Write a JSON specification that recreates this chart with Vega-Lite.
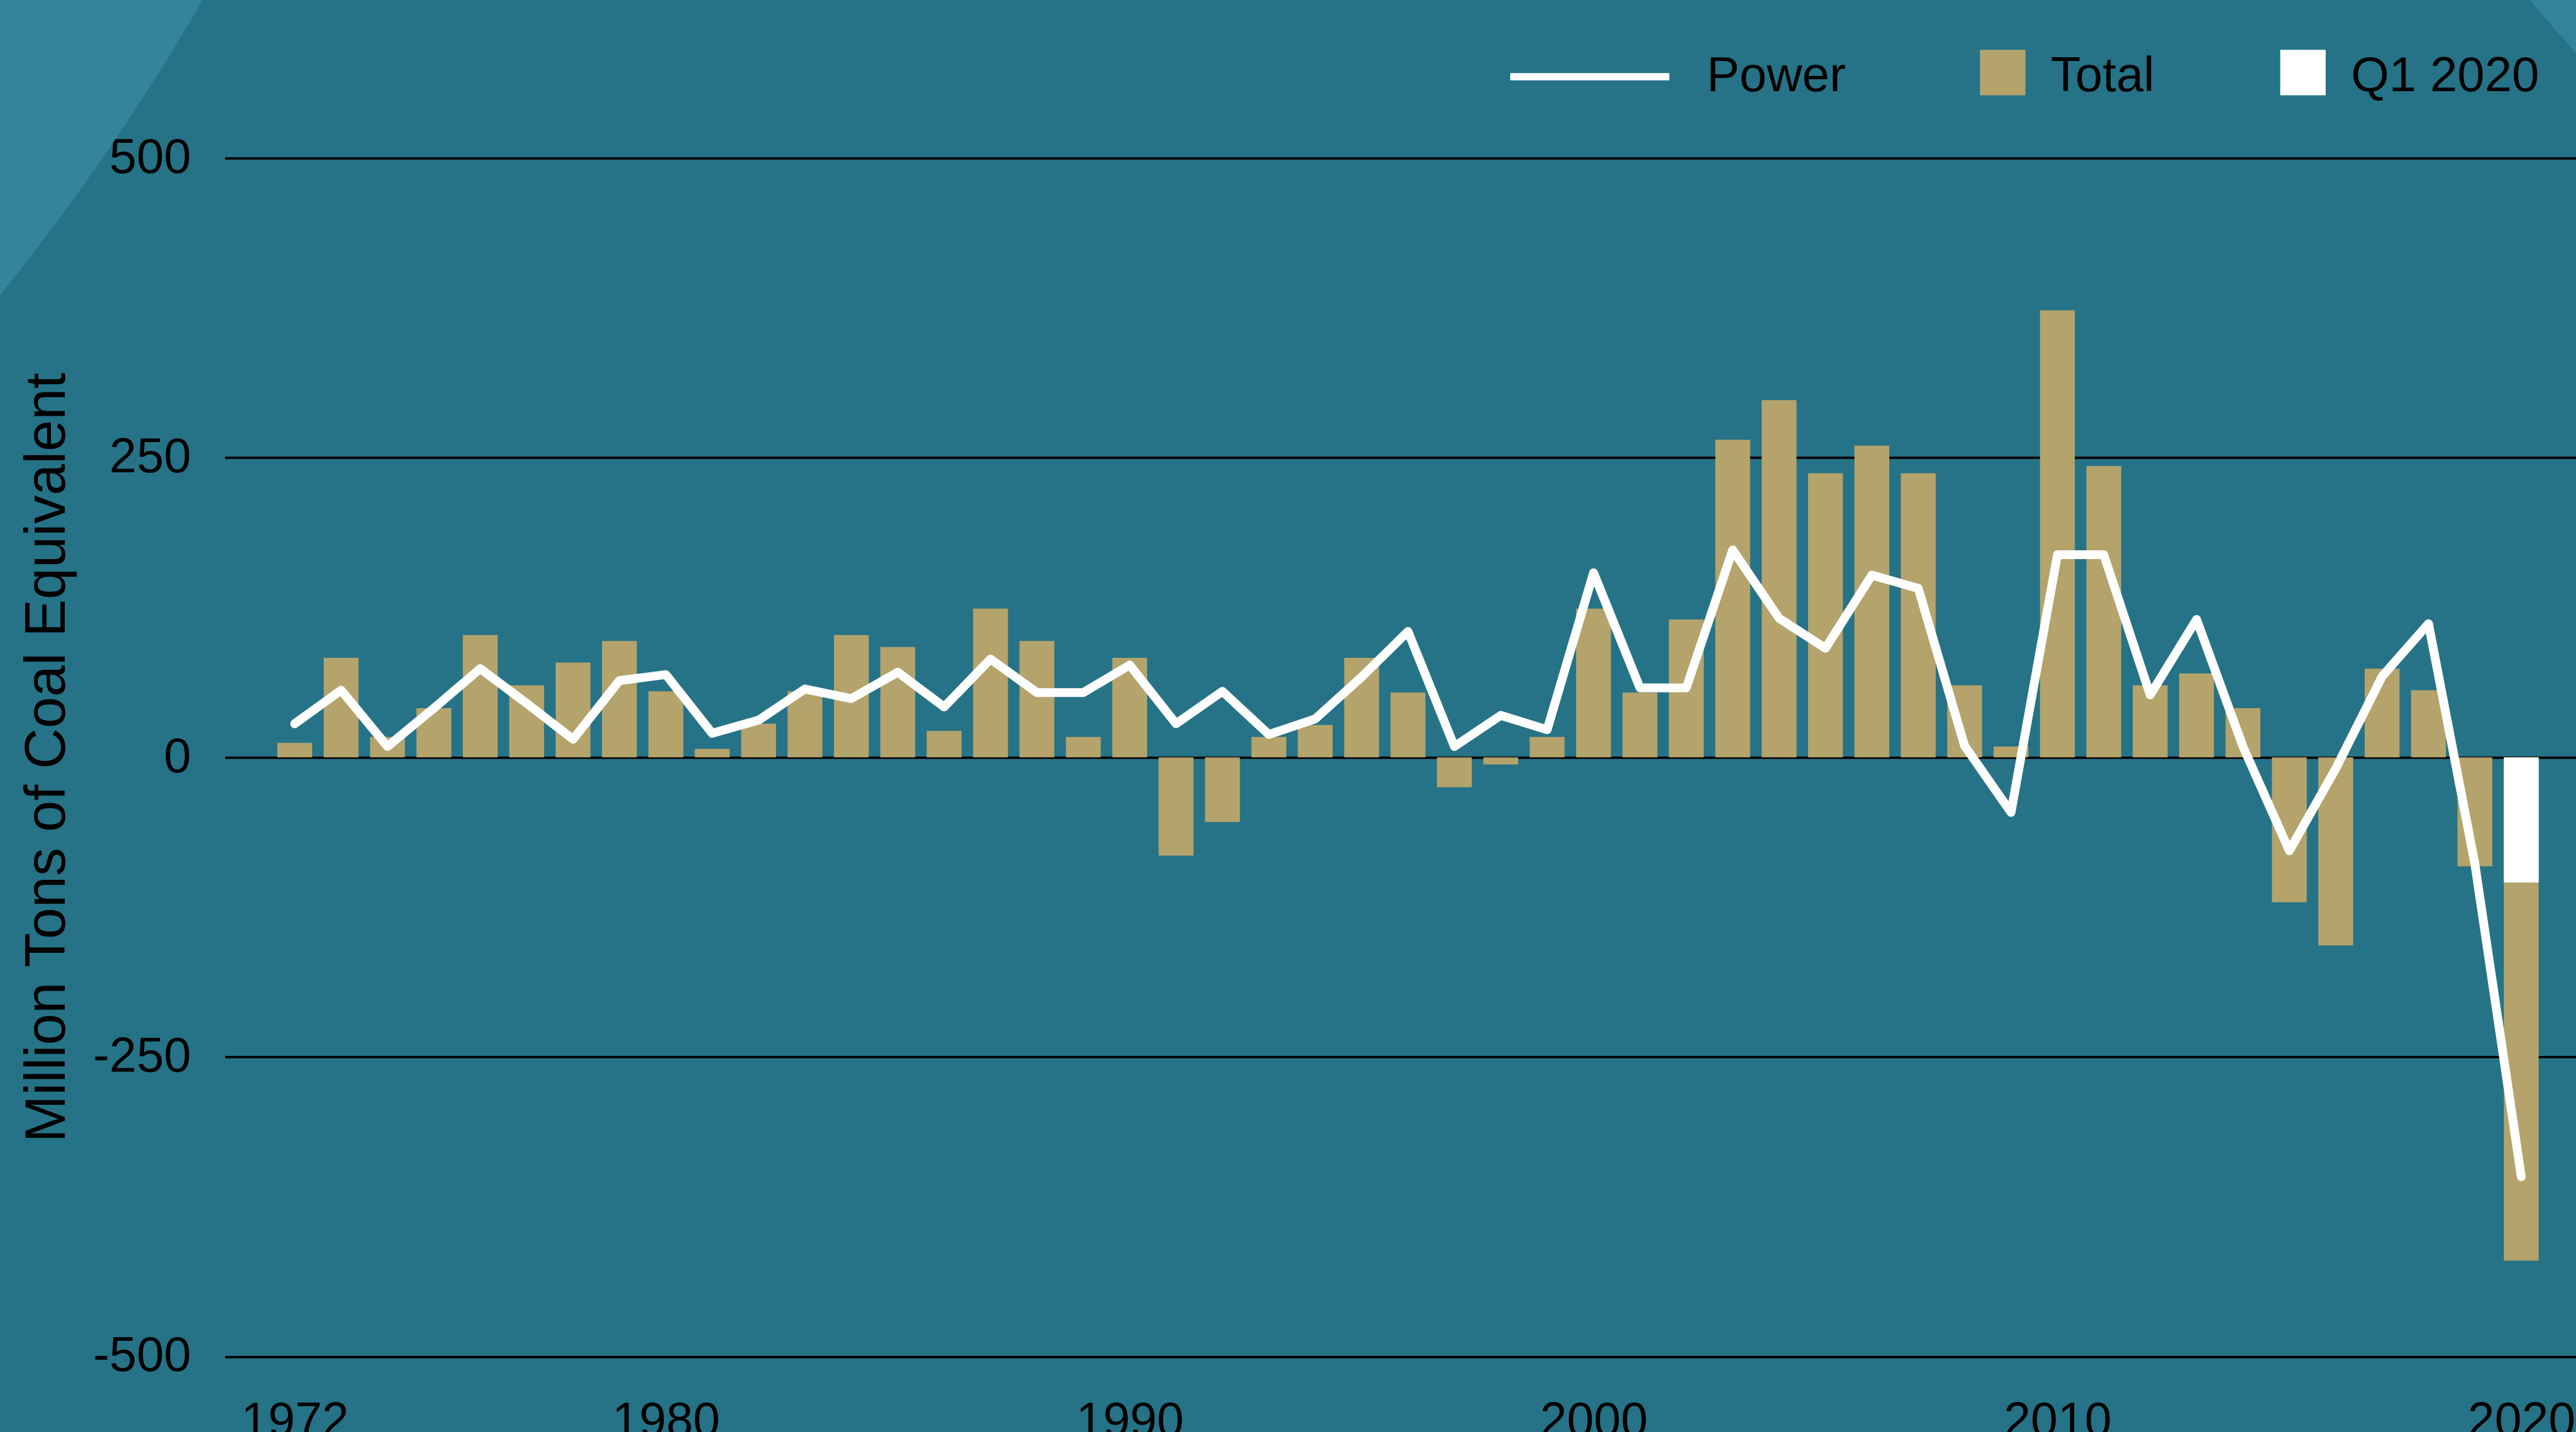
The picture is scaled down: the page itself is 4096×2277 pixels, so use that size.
{
  "$schema": "https://vega.github.io/schema/vega-lite/v6.json",
  "width": 3738.5,
  "height": 1905.5,
  "autosize": {"type": "none"},
  "padding": {"left": 357.5, "top": 251.4, "right": 0, "bottom": 120.1},
  "background": "#267387",
  "config": {"view": {"stroke": null}, "font": "Liberation Sans"},
  "datasets": {
    "bars": [
      {"year": 1972, "value": 12, "series": "Total"},
      {"year": 1973, "value": 83, "series": "Total"},
      {"year": 1974, "value": 17, "series": "Total"},
      {"year": 1975, "value": 41, "series": "Total"},
      {"year": 1976, "value": 102, "series": "Total"},
      {"year": 1977, "value": 60, "series": "Total"},
      {"year": 1978, "value": 79, "series": "Total"},
      {"year": 1979, "value": 97, "series": "Total"},
      {"year": 1980, "value": 55, "series": "Total"},
      {"year": 1981, "value": 7, "series": "Total"},
      {"year": 1982, "value": 28, "series": "Total"},
      {"year": 1983, "value": 55, "series": "Total"},
      {"year": 1984, "value": 102, "series": "Total"},
      {"year": 1985, "value": 92, "series": "Total"},
      {"year": 1986, "value": 22, "series": "Total"},
      {"year": 1987, "value": 124, "series": "Total"},
      {"year": 1988, "value": 97, "series": "Total"},
      {"year": 1989, "value": 17, "series": "Total"},
      {"year": 1990, "value": 83, "series": "Total"},
      {"year": 1991, "value": -82, "series": "Total"},
      {"year": 1992, "value": -54, "series": "Total"},
      {"year": 1993, "value": 17, "series": "Total"},
      {"year": 1994, "value": 27, "series": "Total"},
      {"year": 1995, "value": 83, "series": "Total"},
      {"year": 1996, "value": 54, "series": "Total"},
      {"year": 1997, "value": -25, "series": "Total"},
      {"year": 1998, "value": -6, "series": "Total"},
      {"year": 1999, "value": 17, "series": "Total"},
      {"year": 2000, "value": 124, "series": "Total"},
      {"year": 2001, "value": 54, "series": "Total"},
      {"year": 2002, "value": 115, "series": "Total"},
      {"year": 2003, "value": 265, "series": "Total"},
      {"year": 2004, "value": 298, "series": "Total"},
      {"year": 2005, "value": 237, "series": "Total"},
      {"year": 2006, "value": 260, "series": "Total"},
      {"year": 2007, "value": 237, "series": "Total"},
      {"year": 2008, "value": 60, "series": "Total"},
      {"year": 2009, "value": 9, "series": "Total"},
      {"year": 2010, "value": 373, "series": "Total"},
      {"year": 2011, "value": 243, "series": "Total"},
      {"year": 2012, "value": 60, "series": "Total"},
      {"year": 2013, "value": 70, "series": "Total"},
      {"year": 2014, "value": 41, "series": "Total"},
      {"year": 2015, "value": -121, "series": "Total"},
      {"year": 2016, "value": -157, "series": "Total"},
      {"year": 2017, "value": 74, "series": "Total"},
      {"year": 2018, "value": 56, "series": "Total"},
      {"year": 2019, "value": -91, "series": "Total"},
      {"year": 2020, "value": -420, "series": "Total"},
      {"year": 2020, "value": -104.5, "series": "Q1 2020"}
    ],
    "power": [
      {"year": 1972, "value": 28, "series": "Power"},
      {"year": 1973, "value": 56, "series": "Power"},
      {"year": 1974, "value": 9, "series": "Power"},
      {"year": 1975, "value": 41, "series": "Power"},
      {"year": 1976, "value": 74, "series": "Power"},
      {"year": 1977, "value": 45, "series": "Power"},
      {"year": 1978, "value": 15, "series": "Power"},
      {"year": 1979, "value": 64, "series": "Power"},
      {"year": 1980, "value": 69, "series": "Power"},
      {"year": 1981, "value": 20, "series": "Power"},
      {"year": 1982, "value": 31, "series": "Power"},
      {"year": 1983, "value": 57, "series": "Power"},
      {"year": 1984, "value": 49, "series": "Power"},
      {"year": 1985, "value": 71, "series": "Power"},
      {"year": 1986, "value": 42, "series": "Power"},
      {"year": 1987, "value": 82, "series": "Power"},
      {"year": 1988, "value": 54, "series": "Power"},
      {"year": 1989, "value": 54, "series": "Power"},
      {"year": 1990, "value": 77, "series": "Power"},
      {"year": 1991, "value": 28, "series": "Power"},
      {"year": 1992, "value": 55, "series": "Power"},
      {"year": 1993, "value": 19, "series": "Power"},
      {"year": 1994, "value": 32, "series": "Power"},
      {"year": 1995, "value": 67, "series": "Power"},
      {"year": 1996, "value": 105, "series": "Power"},
      {"year": 1997, "value": 9, "series": "Power"},
      {"year": 1998, "value": 35, "series": "Power"},
      {"year": 1999, "value": 23, "series": "Power"},
      {"year": 2000, "value": 154, "series": "Power"},
      {"year": 2001, "value": 58, "series": "Power"},
      {"year": 2002, "value": 58, "series": "Power"},
      {"year": 2003, "value": 173, "series": "Power"},
      {"year": 2004, "value": 116, "series": "Power"},
      {"year": 2005, "value": 91, "series": "Power"},
      {"year": 2006, "value": 152, "series": "Power"},
      {"year": 2007, "value": 141, "series": "Power"},
      {"year": 2008, "value": 9.5, "series": "Power"},
      {"year": 2009, "value": -46, "series": "Power"},
      {"year": 2010, "value": 169, "series": "Power"},
      {"year": 2011, "value": 169, "series": "Power"},
      {"year": 2012, "value": 52, "series": "Power"},
      {"year": 2013, "value": 115, "series": "Power"},
      {"year": 2014, "value": 9, "series": "Power"},
      {"year": 2015, "value": -78, "series": "Power"},
      {"year": 2016, "value": -9.5, "series": "Power"},
      {"year": 2017, "value": 67.5, "series": "Power"},
      {"year": 2018, "value": 111.5, "series": "Power"},
      {"year": 2019, "value": -89, "series": "Power"},
      {"year": 2020, "value": -350, "series": "Power"}
    ]
  },
  "encoding": {
    "x": {
      "field": "year",
      "type": "quantitative",
      "scale": {"domain": [1970.561, 2021.112], "nice": false, "zero": false},
      "axis": {
        "values": [1972, 1980, 1990, 2000, 2010, 2020],
        "format": "d",
        "title": null,
        "grid": false,
        "domain": false,
        "ticks": false,
        "labelFont": "Liberation Sans",
        "labelFontSize": 77,
        "labelColor": "#000000",
        "labelPadding": 66,
        "labelFlush": false,
        "labelOverlap": false,
        "labelLimit": 0,
        "labelBound": false
      }
    },
    "y": {
      "field": "value",
      "type": "quantitative",
      "stack": null,
      "scale": {"domain": [-500, 500], "nice": false, "zero": false},
      "axis": {
        "values": [-500, -250, 0, 250, 500],
        "labelExpr": "'' + datum.value",
        "title": "Million Tons of Coal Equivalent",
        "titleFont": "Liberation Sans",
        "titleFontSize": 90,
        "titleFontWeight": "normal",
        "titleColor": "#000000",
        "titlePadding": 36,
        "titleLimit": 0,
        "grid": true,
        "gridColor": "#000000",
        "gridWidth": 3.8,
        "gridOpacity": 1,
        "domain": false,
        "ticks": false,
        "labelFont": "Liberation Sans",
        "labelFontSize": 78,
        "labelColor": "#000000",
        "labelPadding": 54,
        "labelLimit": 0,
        "labelOverlap": false,
        "labelFlush": false
      }
    }
  },
  "layer": [
    {
      "data": {"values": [{"year": 1926.55, "value": 1605}]},
      "mark": {"type": "point", "shape": "circle", "filled": true, "size": 54860000, "color": "#338699", "opacity": 1, "strokeWidth": 0}
    },
    {
      "data": {"values": [{"year": 2039.88, "value": 1255.7}]},
      "mark": {"type": "point", "shape": "circle", "filled": true, "size": 14087000, "color": "#338699", "opacity": 1, "strokeWidth": 0}
    },
    {
      "data": {"name": "bars"},
      "mark": {"type": "bar", "orient": "vertical", "width": 55.4},
      "encoding": {
        "fill": {
          "field": "series",
          "type": "nominal",
          "scale": {"domain": ["Total", "Q1 2020"], "range": ["#B4A36B", "#FFFFFF"]},
          "legend": {
            "orient": "none",
            "legendX": 2788,
            "legendY": -175,
            "direction": "horizontal",
            "title": null,
            "padding": 0,
            "symbolType": "square",
            "symbolSize": 5227,
            "symbolStrokeWidth": 0,
            "symbolOpacity": 1,
            "labelFont": "Liberation Sans",
            "labelFontSize": 78,
            "labelColor": "#000000",
            "labelOffset": 37.35,
            "labelLimit": 0,
            "columnPadding": 196.35,
            "encode": {"labels": {"update": {"dy": {"value": 7}}}}
          }
        }
      }
    },
    {
      "data": {"name": "power"},
      "mark": {"type": "line", "strokeWidth": 14, "strokeCap": "round", "strokeJoin": "round"},
      "encoding": {
        "stroke": {
          "field": "series",
          "type": "nominal",
          "scale": {"domain": ["Power"], "range": ["#FFFFFF"]},
          "legend": {
            "orient": "none",
            "legendX": 2037.8,
            "legendY": -261.9,
            "direction": "horizontal",
            "title": null,
            "padding": 0,
            "symbolType": "stroke",
            "symbolSize": 64000,
            "symbolStrokeWidth": 11.3,
            "symbolOpacity": 1,
            "labelFont": "Liberation Sans",
            "labelFontSize": 78,
            "labelColor": "#000000",
            "labelOffset": 53.5,
            "labelLimit": 0
          }
        }
      }
    }
  ]
}
